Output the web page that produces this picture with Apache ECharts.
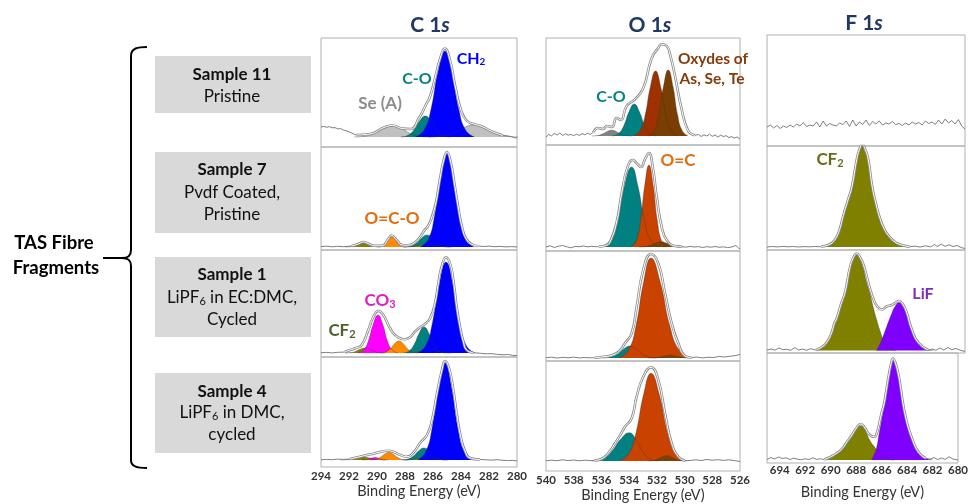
<!DOCTYPE html>
<html><head><meta charset="utf-8">
<script src="https://cdn.jsdelivr.net/npm/echarts/dist/echarts.min.js"></script>
<style>html,body{margin:0;padding:0;background:#fff}#c{width:971px;height:504px}</style>
</head><body><div id="c"></div>
<script>
// ---------------- DATA (binding energy eV, intensity a.u.) ----------------
const coreLevels = ['C 1', 'O 1', 'F 1'];
const sampleNames = ['Sample 11', 'Sample 7', 'Sample 1', 'Sample 4'];
const sampleDesc = [['Pristine'], ['Pvdf Coated,', 'Pristine'], ['LiPF{s|6} in EC:DMC,', 'Cycled'], ['LiPF{s|6} in DMC,', 'cycled']];
const groupLabel = ['TAS Fibre', 'Fragments'];
const axisTitle = 'Binding Energy (eV)';

// C 1s - Sample 11
const c11_SeA1 = [[291.62,0],[290.81,0.9],[290.18,3.6],[289.54,8.3],[288.9,11],[288.26,8.3],[287.63,3.6],[286.99,0.9],[286.18,0]];
const c11_SeA2 = [[286.3,0],[285.35,1],[284.6,3.9],[283.85,9.1],[283.1,12],[282.35,9.1],[281.6,3.9],[280.85,1],[279.9,0]];
const c11_CO = [[288.31,0],[287.79,1.7],[287.38,6.8],[286.96,15.9],[286.55,21],[286.14,15.9],[285.73,6.8],[285.31,1.7],[284.79,0]];
const c11_CH2 = [[287.26,0],[286.64,6.9],[286.14,28],[285.65,64.9],[285.15,86],[284.65,64.9],[284.16,28],[283.67,6.9],[283.04,0]];
const c11_env = [[291.5,2],[290.5,3],[289.5,9.5],[288.9,11.5],[288.2,8.5],[287.6,8],[287.0,19],[286.55,31],[286.2,41],[285.8,62],[285.5,78],[285.15,88.5],[284.8,77.5],[284.4,50],[284.0,27],[283.6,16.5],[283.1,13],[282.5,10.5],[281.8,5.5],[281.0,1.5]];
const c11_rawL = [[294,10],[293.8,10.6],[293.6,9.7],[293.4,10.3],[293.2,9.2],[293.0,9.4],[292.8,8.1],[292.6,8.4],[292.4,7.0],[292.2,6.2],[292.0,5.1],[291.8,3.9],[291.5,2]];
const c11_rawR = [[281.0,1.5],[280.7,1.2],[280.4,0.3],[280.2,-0.6],[280,-1]];
// C 1s - Sample 7
const c7_CF2 = [[292.28,0],[291.9,0.3],[291.6,1.3],[291.3,3],[291,4],[290.7,3],[290.4,1.3],[290.1,0.3],[289.72,0]];
const c7_OCO = [[289.97,0],[289.67,0.8],[289.43,3.3],[289.19,7.6],[288.95,10],[288.71,7.6],[288.47,3.3],[288.23,0.8],[287.93,0]];
const c7_CO = [[288.03,0],[287.56,1],[287.18,3.9],[286.81,9.1],[286.43,12],[286.06,9.1],[285.68,3.9],[285.31,1],[284.83,0]];
const c7_CF2b = [[288.16,0],[287.64,0.24],[287.23,1],[286.81,2.3],[286.4,3],[285.99,2.3],[285.58,1],[285.16,0.24],[284.64,0]];
const c7_CH2 = [[286.92,0],[286.35,7.4],[285.9,30.2],[285.45,70.2],[285,93],[284.55,70.2],[284.1,30.2],[283.65,7.4],[283.08,0]];
const c7_env = [[291.8,1],[291.3,3.2],[291.0,5],[290.6,3.2],[290.2,1.2],[289.6,1.5],[289.2,8],[288.95,11.5],[288.6,7],[288.2,2],[287.8,1.8],[287.3,4.5],[286.9,10.5],[286.6,17],[286.4,20],[286.1,29],[285.8,44],[285.5,68],[285.25,86],[285.0,95],[284.75,86],[284.5,66],[284.2,40],[283.9,18.5],[283.6,7.5],[283.2,2.5],[282.8,1]];
const c7_rawL = [[294,0.4],[293.6,0.8],[293.2,0.2],[292.8,0.7],[292.4,0.3],[292.0,0.8],[291.8,1]];
const c7_rawR = [[282.8,1],[282.4,0.5],[282,0.9],[281.6,0.3],[281.2,0.6],[280.8,0.1],[280.4,0.4],[280,0]];
// C 1s - Sample 1
const c1_CF2 = [[292.29,0],[291.86,0.4],[291.53,1.6],[291.19,3.8],[290.85,5],[290.51,3.8],[290.18,1.6],[289.84,0.4],[289.41,0]];
const c1_CO3 = [[291.37,0],[290.94,3],[290.61,12.4],[290.27,28.7],[289.93,38],[289.59,28.7],[289.26,12.4],[288.92,3],[288.49,0]];
const c1_OCO = [[289.77,0],[289.38,1],[289.06,3.9],[288.75,9.1],[288.43,12],[288.12,9.1],[287.8,3.9],[287.49,1],[287.09,0]];
const c1_CO = [[288.14,0],[287.7,2.1],[287.35,8.5],[286.99,19.6],[286.64,26],[286.29,19.6],[285.94,8.5],[285.58,2.1],[285.14,0]];
const c1_CF2b = [[287.9,0],[287.43,0.3],[287.05,1.3],[286.68,3],[286.3,4],[285.93,3],[285.55,1.3],[285.18,0.3],[284.7,0]];
const c1_CH2 = [[287.15,0],[286.53,7.3],[286.05,29.6],[285.56,68.7],[285.07,91],[284.58,68.7],[284.1,29.6],[283.61,7.3],[282.99,0]];
const c1_env = [[292.3,1],[291.93,3],[291.5,5],[291.09,8],[290.62,23],[290.26,36],[289.9,42],[289.55,38],[289.19,28],[288.83,19.7],[288.48,15.7],[288.0,13.7],[287.64,15.7],[287.29,21.3],[286.93,25.7],[286.57,29],[286.21,34.7],[285.86,49.7],[285.62,69.7],[285.38,86.3],[285.07,95.7],[284.79,89.7],[284.55,73],[284.31,46.3],[284.07,26.3],[283.83,11.3],[283.6,3],[283.12,0.3]];
const c1_rawL = [[294,0.3],[293.6,0.6],[293.2,0.1],[292.8,0.7],[292.5,0.8],[292.3,1]];
const c1_rawR = [[283.12,0.3],[282.6,-0.3],[282.2,-0.8],[281.8,-0.6],[281.4,-1.4],[281,-1.8],[280.6,-1.5],[280.3,-2.4],[280,-2.5]];
// C 1s - Sample 4
const c4_CF2 = [[292.6,0],[292.13,0.24],[291.75,1],[291.38,2.3],[291,3],[290.63,2.3],[290.25,1],[289.88,0.24],[289.4,0]];
const c4_CO3 = [[291.1,0],[290.82,0.2],[290.59,0.8],[290.37,1.9],[290.14,2.5],[289.92,1.9],[289.69,0.8],[289.47,0.2],[289.18,0]];
const c4_OCO = [[290.49,0],[290.1,0.6],[289.78,2.4],[289.47,5.7],[289.15,7.5],[288.84,5.7],[288.52,2.4],[288.21,0.6],[287.81,0]];
const c4_CO = [[288.25,0],[287.78,1],[287.4,3.9],[287.03,9.1],[286.65,12],[286.28,9.1],[285.9,3.9],[285.53,1],[285.05,0]];
const c4_CF2b = [[288.1,0],[287.63,0.24],[287.25,1],[286.88,2.3],[286.5,3],[286.13,2.3],[285.75,1],[285.38,0.24],[284.9,0]];
const c4_CH2 = [[287.12,0],[286.54,7.8],[286.07,31.5],[285.61,73.2],[285.14,97],[284.68,73.2],[284.21,31.5],[283.75,7.8],[283.16,0]];
const c4_env = [[291.93,1],[291.3,3],[290.71,5],[290.2,6.5],[289.93,7.5],[289.21,9.3],[288.8,8],[288.5,6],[287.86,3.3],[287.36,8],[286.93,17],[286.43,25],[286.07,40],[285.71,67],[285.36,90],[285.14,99],[284.86,92],[284.57,72],[284.29,45],[284.0,22],[283.71,9],[283.36,2],[282.64,0.5]];
const c4_rawL = [[294,0.2],[293.6,0.6],[293.2,0.3],[292.8,0.9],[292.4,0.6],[291.93,1]];
const c4_rawR = [[282.64,0.5],[282.2,0.2],[281.8,-0.1],[281.4,0.3],[281,-0.3],[280.6,-0.6],[280.3,-0.4],[280,-0.9]];

// O 1s - Sample 11
const o11_gray = [[536.7,0],[536.27,0.5],[535.94,1.9],[535.6,4.3],[535.26,5.7],[534.92,4.3],[534.59,1.9],[534.25,0.5],[533.82,0]];
const o11_CO = [[535.23,0],[534.76,2.6],[534.38,10.4],[534.01,24.2],[533.63,32],[533.26,24.2],[532.88,10.4],[532.51,2.6],[532.03,0]];
const o11_ox1 = [[533.69,0],[533.22,5.2],[532.84,21.1],[532.47,49.1],[532.09,65],[531.72,49.1],[531.34,21.1],[530.97,5.2],[530.49,0]];
const o11_ox2 = [[532.62,0],[532.19,5.3],[531.86,21.5],[531.52,49.8],[531.18,66],[530.84,49.8],[530.51,21.5],[530.17,5.3],[529.74,0]];
const o11_env = [[536.6,3.5],[536.23,8],[535.9,7],[535.6,10],[535.25,9],[534.9,18],[534.6,16],[534.18,30],[533.58,36.7],[532.98,48],[532.37,78],[531.9,88],[531.65,91.7],[531.29,90],[531.05,81.7],[530.69,60],[530.21,26.7],[529.73,5],[529.25,0.7]];
const o11_rawL = [[540,-1],[539.8,1.5],[539.6,0.2],[539.4,2.5],[539.2,1],[539.0,3],[538.8,0.5],[538.6,2.2],[538.4,0.8],[538.2,1.6],[538.0,0.3],[537.8,1.8],[537.6,0.6],[537.4,2.4],[537.2,1.2],[537.0,2.8],[536.8,1.5],[536.6,3.5]];
const o11_rawR = [[529.25,0.7],[529.0,1.5],[528.8,-0.5],[528.6,1.2],[528.4,0],[528.2,1.8],[528.0,-0.3],[527.8,1],[527.6,-1],[527.4,0.8],[527.2,-0.5],[527.0,0.3],[526.8,-1.5],[526.6,-0.6],[526.4,-2],[526.2,-1],[526.0,-3]];
// O 1s - Sample 7
const o7_CO = [[536.06,0],[535.4,6.4],[534.87,26],[534.35,60.4],[533.82,80],[533.36,60.4],[532.89,26],[532.43,6.4],[531.84,0]];
const o7_OC = [[533.85,0],[533.47,6.6],[533.17,26.7],[532.87,61.9],[532.57,82],[532.27,61.9],[531.97,26.7],[531.67,6.6],[531.29,0]];
const o7_ox = [[533.3,0],[532.83,0.4],[532.45,1.7],[532.08,4],[531.7,5.3],[531.33,4],[530.95,1.7],[530.58,0.4],[530.1,0]];
const o7_env = [[536.2,0.5],[535.7,1.5],[535.38,5],[534.9,25],[534.54,53.7],[534.11,80],[533.74,87],[533.4,83],[533.15,80],[532.85,88],[532.57,94],[532.3,80],[532.01,50],[531.65,20],[531.29,7],[530.69,1],[530.2,0.5]];
const o7_rawL = [[540,0],[539.7,1.2],[539.4,-0.5],[539.1,0.8],[538.8,1.5],[538.5,0.2],[538.2,-0.8],[537.9,0.6],[537.6,0.3],[537.3,1],[537.0,0.2],[536.7,0.7],[536.4,0.3],[536.2,0.5]];
const o7_rawR = [[530.2,0.5],[529.9,-0.2],[529.6,0.6],[529.3,0],[529.0,0.4],[528.7,-0.5],[528.4,0.3],[528.1,-0.2],[527.8,0.5],[527.5,-0.3],[527.2,0.2],[526.9,-0.6],[526.6,0],[526.3,1.5],[526.1,-1],[526,-2]];
// O 1s - Sample 1
const o1_CO = [[535.86,0],[535.29,1],[534.84,3.9],[534.39,9.1],[533.94,12],[533.49,9.1],[533.04,3.9],[532.59,1],[532.02,0]];
const o1_OC = [[534.72,0],[534.04,8],[533.5,32.5],[532.96,75.5],[532.42,100],[531.75,75.5],[531.07,32.5],[530.39,8],[529.54,0]];
const o1_ox = [[532.65,0],[532.18,0.2],[531.8,0.9],[531.43,2],[531.05,2.7],[530.68,2],[530.3,0.9],[529.93,0.2],[529.45,0]];
const o1_env = [[536.5,0.3],[535.98,1],[535.2,3],[534.7,7],[534.3,14.7],[533.82,24.7],[533.46,51],[532.98,88],[532.42,104],[531.9,94.7],[531.41,64.7],[530.93,34.7],[530.45,14.7],[529.97,2],[529.5,0.5]];
const o1_rawL = [[540,0.3],[539.6,0.8],[539.2,0],[538.8,0.6],[538.4,0.2],[538.0,0.9],[537.6,0.1],[537.2,0.5],[536.8,0.2],[536.5,0.3]];
const o1_rawR = [[529.5,0.5],[529.1,0.9],[528.7,0.1],[528.3,0.8],[527.9,0.4],[527.5,1.6],[527.1,1],[526.7,1.8],[526.3,2.5],[526,3.5]];
// O 1s - Sample 4
const o4_CO = [[536.71,0],[535.9,2.3],[535.27,9.2],[534.63,21.4],[533.99,28.3],[533.5,21.4],[533.02,9.2],[532.53,2.3],[531.91,0]];
const o4_OC = [[534.72,0],[534.04,7],[533.5,28.5],[532.96,66.2],[532.42,87.7],[531.82,66.2],[531.22,28.5],[530.62,7],[529.86,0]];
const o4_ox = [[532.64,0],[532.25,0.4],[531.93,1.7],[531.62,4],[531.3,5.3],[530.99,4],[530.67,1.7],[530.36,0.4],[529.96,0]];
const o4_env = [[536.5,0.5],[536.0,2],[535.5,8],[535.02,17.7],[534.6,27],[534.3,34.3],[533.82,42.7],[533.46,64.3],[532.98,84.3],[532.42,93.7],[531.9,81],[531.41,47.7],[530.93,17.7],[530.45,4.3],[529.97,0.3]];
const o4_rawL = [[540,0.2],[539.6,0.8],[539.2,0.3],[538.8,1.2],[538.4,0.4],[538.0,1],[537.6,0.2],[537.2,0.8],[536.8,0.4],[536.5,0.5]];
const o4_rawR = [[529.97,0.3],[529.6,0.5],[529.2,1.2],[528.8,0.5],[528.4,1.5],[528,0.8],[527.6,1.3],[527.2,0.6],[526.8,1.2],[526.4,0.4],[526,-0.5]];

// F 1s - Sample 11 (noise only)
const f11_raw = [[695,14],[694.75,16],[694.5,13],[694.25,15.5],[694,12.5],[693.75,15],[693.5,13.5],[693.25,16],[693,14],[692.75,17],[692.5,15],[692.25,18.5],[692,14.5],[691.75,16],[691.5,15],[691.25,19],[691,14],[690.75,20],[690.5,15],[690.25,17.5],[690,16],[689.75,15],[689.5,18],[689.25,16.5],[689,20],[688.75,14.5],[688.5,21],[688.25,15],[688,19],[687.75,16.5],[687.5,21],[687.25,15.5],[687,19.5],[686.75,17],[686.5,20],[686.25,16],[686,18],[685.75,17],[685.5,19.5],[685.25,16.5],[685,17.5],[684.75,15.5],[684.5,18],[684.25,16],[684,19],[683.75,17],[683.5,18.5],[683.25,16],[683,20],[682.75,17.5],[682.5,19],[682.25,16.5],[682,21],[681.75,17],[681.5,22],[681.25,18],[681,20.5],[680.75,17],[680.5,21.5],[680.25,15],[680,12]];
// F 1s - Sample 7
const f7_CF2 = [[690.9,0],[690.2,2],[689.8,7],[689.5,16],[689.22,30],[688.9,44],[688.58,58],[688.2,86],[688.0,96],[687.78,101],[687.56,96],[687.33,86],[687.02,58],[686.75,42],[686.44,27],[686.1,16],[685.8,10],[685.3,4],[684.8,1],[684.2,0]];
const f7_env = [[690.9,0.5],[690.2,3],[689.8,8.5],[689.5,17.5],[689.22,31.5],[688.9,45.5],[688.58,59.5],[688.2,87.5],[688.0,97.5],[687.78,102.5],[687.56,97.5],[687.33,87.5],[687.02,59.5],[686.75,43.5],[686.44,28.5],[686.1,17.5],[685.8,11.5],[685.3,5],[684.8,2],[684.2,0.3]];
const f7_rawL = [[695,0],[694.6,0.5],[694.2,0.1],[693.8,0.6],[693.4,0.2],[693,0.5],[692.6,0],[692.2,0.4],[691.8,0.2],[691.4,0.5],[691,0.3],[690.9,0.5]];
const f7_rawR = [[684.2,0.3],[683.8,0.8],[683.4,0],[683,1.2],[682.6,0.2],[682.3,2.5],[682.1,0.5],[681.8,2.8],[681.5,0.6],[681.2,2.2],[680.9,0.4],[680.6,1.5],[680.3,-0.5],[680,-1.5]];
// F 1s - Sample 1
const f1_CF2 = [[691.3,0],[690.9,2],[690.48,7],[690.1,17],[689.72,30.5],[689.4,44],[689.09,57],[688.9,68],[688.7,82],[688.45,91],[688.2,95.5],[687.95,91],[687.7,82],[687.5,70],[687.2,57],[686.95,43],[686.69,30.5],[686.45,20],[686.19,10.5],[685.9,4],[685.55,0.5],[685.2,0]];
const f1_LiF = [[686.7,0],[686.31,10.5],[685.93,24],[685.55,37],[685.3,44],[685.0,48],[684.7,44],[684.42,37],[684.04,20.5],[683.54,7],[682.78,0.5],[682.4,0]];
const f1_env = [[691.3,0.5],[690.9,3],[690.48,8],[690.1,18],[689.9,27],[689.72,32],[689.4,46],[689.09,58],[688.7,84],[688.45,93],[688.2,97],[687.95,93],[687.7,86],[687.2,62],[686.95,52],[686.69,45],[686.3,41],[685.93,44],[685.55,45.5],[685.3,47.5],[685.0,49.5],[684.7,46],[684.42,38],[684.04,21.5],[683.54,8],[682.78,0.5]];
const f1_rawL = [[695,0.5],[694.7,1.5],[694.4,0.3],[694.1,2.5],[693.8,0.8],[693.5,1.2],[693.2,0.2],[692.9,2.8],[692.6,0.5],[692.3,1.5],[692,0.2],[691.7,1.8],[691.3,0.5]];
const f1_rawR = [[682.78,0.5],[682.5,1.5],[682.2,0.2],[681.9,2.5],[681.6,0.5],[681.3,3],[681,0.8],[680.7,2],[680.4,0.5],[680,-1]];
// F 1s - Sample 4
const f4_CF2 = [[690.3,0],[690.1,1.7],[689.5,6],[689.09,10],[688.7,17],[688.33,23.3],[688.0,30],[687.65,34],[687.3,30],[687.07,23.3],[686.8,17],[686.57,13.3],[686.06,5],[685.5,1],[685.0,0]];
const f4_LiF = [[686.8,0],[686.44,10],[686.19,26.7],[686.0,40],[685.81,53],[685.6,70],[685.43,83],[685.25,95],[685.1,99.3],[684.9,95],[684.67,83],[684.5,70],[684.3,53],[684.05,38],[683.79,26.7],[683.28,10],[682.52,1.7],[682.0,0]];
const f4_env = [[690.5,0.4],[690.1,2.5],[689.5,7],[689.09,11.5],[688.7,18.5],[688.33,25],[688.0,31.5],[687.65,36],[687.3,32],[687.07,27],[686.8,24],[686.57,23.3],[686.35,28],[686.19,36],[686.0,47],[685.81,56],[685.6,72],[685.43,85],[685.25,96.5],[685.1,101.5],[684.9,96.5],[684.67,85],[684.5,72],[684.3,55],[684.05,39.5],[683.79,28],[683.5,18],[683.28,11.5],[682.9,5],[682.52,1.7]];
const f4_rawL = [[695,0.5],[694.7,2.5],[694.4,1],[694.1,3],[693.8,1.5],[693.5,2.2],[693.2,0.5],[692.9,1.8],[692.6,0.8],[692.3,0.3],[692,1.2],[691.7,0.5],[691.4,2.2],[691.1,0.6],[690.8,1.3],[690.5,0.4]];
const f4_rawR = [[682.52,1.7],[682.2,0.8],[681.9,2.5],[681.6,0.5],[681.3,2],[681,0.6],[680.7,3.2],[680.4,1],[680,0]];

// ---------------- STRUCTURE / STYLE ----------------
const panels = [
  [
    {comps: [[c11_SeA1,'seA'],[c11_SeA2,'seA'],[c11_CO,'teal'],[c11_CH2,'blue']], env: c11_env, raw: [c11_rawL, c11_rawR]},
    {comps: [[c7_CF2,'olive'],[c7_OCO,'orange'],[c7_CO,'teal'],[c7_CF2b,'olive'],[c7_CH2,'blue']], env: c7_env, raw: [c7_rawL, c7_rawR]},
    {comps: [[c1_CF2,'olive'],[c1_CO3,'magenta'],[c1_OCO,'orange'],[c1_CO,'teal'],[c1_CF2b,'olive'],[c1_CH2,'blue']], env: c1_env, raw: [c1_rawL, c1_rawR]},
    {comps: [[c4_CF2,'olive'],[c4_CO3,'magenta'],[c4_OCO,'orange'],[c4_CO,'teal'],[c4_CF2b,'olive'],[c4_CH2,'blue']], env: c4_env, raw: [c4_rawL, c4_rawR]}
  ],
  [
    {comps: [[o11_gray,'gray'],[o11_CO,'teal'],[o11_ox1,'ox1'],[o11_ox2,'ox2']], env: o11_env, raw: [o11_rawL, o11_rawR]},
    {comps: [[o7_CO,'teal'],[o7_OC,'red'],[o7_ox,'brown']], env: o7_env, raw: [o7_rawL, o7_rawR]},
    {comps: [[o1_CO,'teal'],[o1_OC,'red'],[o1_ox,'brown']], env: o1_env, raw: [o1_rawL, o1_rawR]},
    {comps: [[o4_CO,'teal'],[o4_OC,'red'],[o4_ox,'brown']], env: o4_env, raw: [o4_rawL, o4_rawR]}
  ],
  [
    {comps: [], env: null, raw: [f11_raw]},
    {comps: [[f7_CF2,'olive']], env: f7_env, raw: [f7_rawL, f7_rawR]},
    {comps: [[f1_CF2,'olive'],[f1_LiF,'purple']], env: f1_env, raw: [f1_rawL, f1_rawR]},
    {comps: [[f4_CF2,'olive'],[f4_LiF,'purple']], env: f4_env, raw: [f4_rawL, f4_rawR]}
  ]
];

const fills = {seA:'#c0c0c0', gray:'#828282', teal:'#008080', blue:'#0000ff', olive:'#808000', orange:'#ff8a00',
  magenta:'#ff00ff', ox1:'#9e3100', ox2:'#7a3e00', red:'#c94200', brown:'#7f4000', purple:'#8000ff'};

// layout: [top, bottom, baseline] per row, in px
const geom = [
  {left:321, width:196, min:280, max:294, labelMargin:3, nameGap:17, rows:[[38,147,137],[147,250,247],[250,357,353],[357,467,460]]},
  {left:546, width:194, min:526, max:540, labelMargin:3, nameGap:17, rows:[[38,145,136],[145,251,247],[251,361,358],[361,471,461]]},
  {left:767, width:198, min:680, max:695, labelMargin:1, nameGap:22, rows:[[35,146,141],[146,250,247],[250,353,350.5],[353,463,460]]}
];

const FONT = 'Lato, "Open Sans", "DejaVu Sans", sans-serif';
const grids = [], xAxes = [], yAxes = [], series = [];

geom.forEach((g, ci) => {
  g.rows.forEach((r, ri) => {
    const gi = grids.length;
    const bottom = ri === 3;
    grids.push({left: g.left, top: r[0], width: g.width, height: r[1] - r[0], show: true,
      borderColor: '#b0b0b0', borderWidth: 1, backgroundColor: 'rgba(0,0,0,0)'});
    xAxes.push({gridIndex: gi, type: 'value', min: g.min, max: g.max, interval: 2, inverse: true,
      axisLine: {show: false}, axisTick: {show: false}, splitLine: {show: false},
      axisLabel: {show: bottom, fontSize: 11.5, fontWeight: 'bold', color: '#333', fontFamily: FONT, margin: g.labelMargin,
        showMaxLabel: ci !== 2, showMinLabel: true},
      name: bottom ? axisTitle : '', nameLocation: 'middle', nameGap: g.nameGap,
      nameTextStyle: {fontSize: 14.5, color: '#333', fontFamily: FONT}});
    yAxes.push({gridIndex: gi, type: 'value', show: false, min: -(r[1] - r[2]), max: r[2] - r[0]});
    const p = panels[ci][ri];
    p.comps.forEach(([d, k]) => {
      series.push({type: 'line', xAxisIndex: gi, yAxisIndex: gi, data: d, smooth: 0.5, symbol: 'none', silent: true, z: 2,
        lineStyle: {color: '#333', width: 0.6, opacity: 0.6}, areaStyle: {color: fills[k], opacity: 1}});
    });
    p.raw.forEach(d => {
      series.push({type: 'line', xAxisIndex: gi, yAxisIndex: gi, data: d, smooth: false, symbol: 'none', silent: true, z: 3,
        lineStyle: {color: '#707070', width: 0.9}});
    });
    if (p.env) {
      series.push({type: 'line', xAxisIndex: gi, yAxisIndex: gi, data: p.env, smooth: 0.5, symbol: 'none', silent: true, z: 4,
        lineStyle: {color: '#8c8c8c', width: 2.6}});
      series.push({type: 'line', xAxisIndex: gi, yAxisIndex: gi, data: p.env, smooth: 0.5, symbol: 'none', silent: true, z: 5,
        lineStyle: {color: '#ffffff', width: 1}});
    }
  });
});

function T(x, y, text, size, color, weight) {
  return {type: 'text', x: x, y: y, silent: true, z: 100,
    style: {text: text, fill: color, fontSize: size, fontWeight: weight || 'normal', fontFamily: FONT,
      align: 'center', verticalAlign: 'middle',
      rich: {s: {fontSize: Math.round(size * 0.62), fill: color, fontWeight: weight || 'normal', fontFamily: FONT,
        verticalAlign: 'bottom', lineHeight: Math.round(size * 0.9)},
        i: {fontSize: size, fill: color, fontWeight: weight || 'normal', fontStyle: 'italic', fontFamily: FONT}}}};
}
function L(x1, y1, x2, y2) {
  return {type: 'line', silent: true, z: 1, shape: {x1: x1, y1: y1, x2: x2, y2: y2}, style: {stroke: '#000', lineWidth: 2}};
}
function B(x1, y1, c1x, c1y, c2x, c2y, x2, y2) {
  return {type: 'bezierCurve', silent: true, z: 1,
    shape: {x1: x1, y1: y1, cpx1: c1x, cpy1: c1y, cpx2: c2x, cpy2: c2y, x2: x2, y2: y2},
    style: {stroke: '#000', lineWidth: 2, fill: null}};
}

const graphics = [];
// titles
const titleX = [430, 650, 864], titleY = [25, 25, 23];
coreLevels.forEach((t, i) => graphics.push(T(titleX[i], titleY[i], t + '{i|s}', 21, '#1f3864', 'bold')));
// sample boxes
const boxes = [[56, 57], [152, 81], [257, 80], [373, 80]];
const lineY = [[75, 97], [170, 193, 215], [275, 298, 320], [392, 413, 435]];
boxes.forEach((b, i) => {
  graphics.push({type: 'rect', shape: {x: 155, y: b[0], width: 156, height: b[1]}, style: {fill: '#d9d9d9'}, silent: true, z: 1});
  graphics.push(T(232, lineY[i][0], sampleNames[i], 17, '#111', 'bold'));
  sampleDesc[i].forEach((s, j) => graphics.push(T(232, lineY[i][j + 1], s, 17, '#111', 'normal')));
});
// brace
graphics.push(B(147, 47, 138, 47, 131, 48, 131, 56));
graphics.push(L(131, 56, 131, 250));
graphics.push(B(131, 250, 131, 256, 128, 258, 122, 258));
graphics.push(L(122, 258, 103, 258));
graphics.push(B(122, 258, 128, 258, 131, 260, 131, 266));
graphics.push(L(131, 266, 131, 460));
graphics.push(B(131, 460, 131, 467, 138, 468, 147, 468));
graphics.push(T(54, 243, groupLabel[0], 18.5, '#000', 'bold'));
graphics.push(T(56, 268, groupLabel[1], 18.5, '#000', 'bold'));
// peak labels
graphics.push(T(380, 104, 'Se (A)', 17, '#8c8c8c', 'bold'));
graphics.push(T(417, 79, 'C-O', 16, '#00857f', 'bold'));
graphics.push(T(471, 59, 'CH{s|2}', 16, '#0000ff', 'bold'));
graphics.push(T(392, 219, 'O=C-O', 17, '#e46c0a', 'bold'));
graphics.push(T(380, 301, 'CO{s|3}', 17, '#e01fc0', 'bold'));
graphics.push(T(342, 331, 'CF{s|2}', 17, '#4f6228', 'bold'));
graphics.push(T(611, 97, 'C-O', 16, '#00857f', 'bold'));
graphics.push(T(713, 59, 'Oxydes of', 15.5, '#843c0c', 'bold'));
graphics.push(T(712, 79, 'As, Se, Te', 15.5, '#843c0c', 'bold'));
graphics.push(T(678, 161, 'O=C', 17, '#e46c0a', 'bold'));
graphics.push(T(830, 160, 'CF{s|2}', 17, '#6b6b1a', 'bold'));
graphics.push(T(923, 294, 'LiF', 16, '#7b2fbe', 'bold'));

const chart = echarts.init(document.getElementById('c'), null, {renderer: 'canvas'});
chart.setOption({animation: false, backgroundColor: '#fff', grid: grids, xAxis: xAxes, yAxis: yAxes, series: series, graphic: graphics});
</script></body></html>
